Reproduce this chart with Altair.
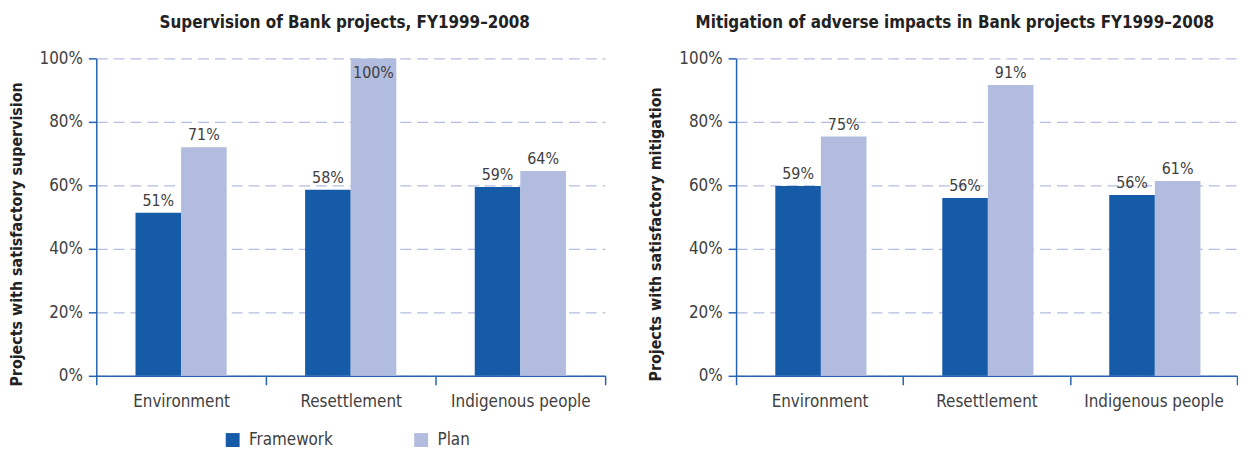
import altair as alt
import pandas as pd

categories = ["Environment", "Resettlement", "Indigenous people"]
series = ["Framework", "Plan"]
colors = ["#155BA8", "#B2BCDE"]
y_ticks = [0, 20, 40, 60, 80, 100]

sup_framework = [51.4, 58.6, 59.5]
sup_plan = [72.0, 100.0, 64.5]
sup_framework_labels = ["51%", "58%", "59%"]
sup_plan_labels = ["71%", "100%", "64%"]

mit_framework = [59.8, 56.0, 57.0]
mit_plan = [75.4, 91.6, 61.4]
mit_framework_labels = ["59%", "56%", "56%"]
mit_plan_labels = ["75%", "91%", "61%"]

FONT = "DejaVu Sans Condensed, Roboto"
AXIS_COLOR = "#2764B0"
TEXT = "#404040"


def make_df(fw, pl, fwl, pll):
    rows = []
    for c, v, l in zip(categories, fw, fwl):
        rows.append({"category": c, "series": "Framework", "value": v, "label": l})
    for c, v, l in zip(categories, pl, pll):
        rows.append({"category": c, "series": "Plan", "value": v, "label": l})
    return pd.DataFrame(rows)


def panel(df, title, ytitle, width, title_dx):
    base = alt.Chart(df).encode(
        x=alt.X(
            "category:N",
            sort=categories,
            title=None,
            scale=alt.Scale(paddingInner=0, paddingOuter=0),
            axis=alt.Axis(
                tickBand="extent",
                labelAngle=0,
                labelFont=FONT,
                labelFontSize=17,
                labelColor=TEXT,
                labelPadding=9,
                domainColor=AXIS_COLOR,
                tickColor=AXIS_COLOR,
                tickSize=9,
                domainWidth=1.5,
                tickWidth=1.5,
                grid=False,
            ),
        ),
        xOffset=alt.XOffset("series:N", sort=series,
                            scale=alt.Scale(paddingInner=0, paddingOuter=0.86)),
    )
    bars = base.mark_bar().encode(
        y=alt.Y(
            "value:Q",
            scale=alt.Scale(domain=[0, 100]),
            title=ytitle,
            axis=alt.Axis(
                values=y_ticks,
                labelExpr="datum.value + '%'",
                labelFont=FONT,
                labelFontSize=17,
                labelColor=TEXT,
                labelPadding=6,
                tickSize=8,
                tickColor=AXIS_COLOR,
                domainColor=AXIS_COLOR,
                domainWidth=1.5,
                tickWidth=1.5,
                grid=True,
                gridColor="#B4BEE0",
                gridDash=[11, 6],
                gridWidth=1.2,
                titleFont=FONT,
                titleFontSize=16,
                titleFontWeight="bold",
                titleColor="#222222",
                titleY=177,
                titlePadding=15,
            ),
        ),
        color=alt.Color(
            "series:N",
            sort=series,
            scale=alt.Scale(domain=series, range=colors),
            legend=alt.Legend(
                title=None,
                orient="none",
                direction="horizontal",
                legendX=129,
                legendY=376,
                symbolType="square",
                symbolSize=196,
                symbolStrokeWidth=0,
                labelFont=FONT,
                labelFontSize=17,
                labelColor=TEXT,
                labelOffset=8,
                columnPadding=80,
            ),
        ),
    )
    labels = base.transform_calculate(
        ly="datum.value > 97 ? datum.value - 8.5 : datum.value"
    ).mark_text(
        baseline="bottom", dy=-4, font=FONT, fontSize=16, color=TEXT
    ).encode(
        y=alt.Y("ly:Q"),
        text="label:N",
    )
    return alt.layer(bars, labels).properties(
        width=width,
        height=320,
        title=alt.TitleParams(
            title,
            font=FONT,
            fontSize=17,
            fontWeight="bold",
            color="#222222",
            anchor="middle",
            frame="group",
            dx=title_dx,
            offset=18,
        ),
    )


left = panel(
    make_df(sup_framework, sup_plan, sup_framework_labels, sup_plan_labels),
    "Supervision of Bank projects, FY1999–2008",
    "Projects with  satisfactory supervision",
    513,
    -6,
)
right = panel(
    make_df(mit_framework, mit_plan, mit_framework_labels, mit_plan_labels),
    "Mitigation of adverse impacts in Bank projects FY1999–2008",
    "Projects with satisfactory mitigation",
    505,
    -32,
)

chart = alt.hconcat(left, right, spacing=42).properties(
    padding={"left": 0, "top": 4, "right": 0, "bottom": 0}
).configure_view(stroke=None)

chart.save("out.html", embed_options={"renderer": "svg", "actions": False})
